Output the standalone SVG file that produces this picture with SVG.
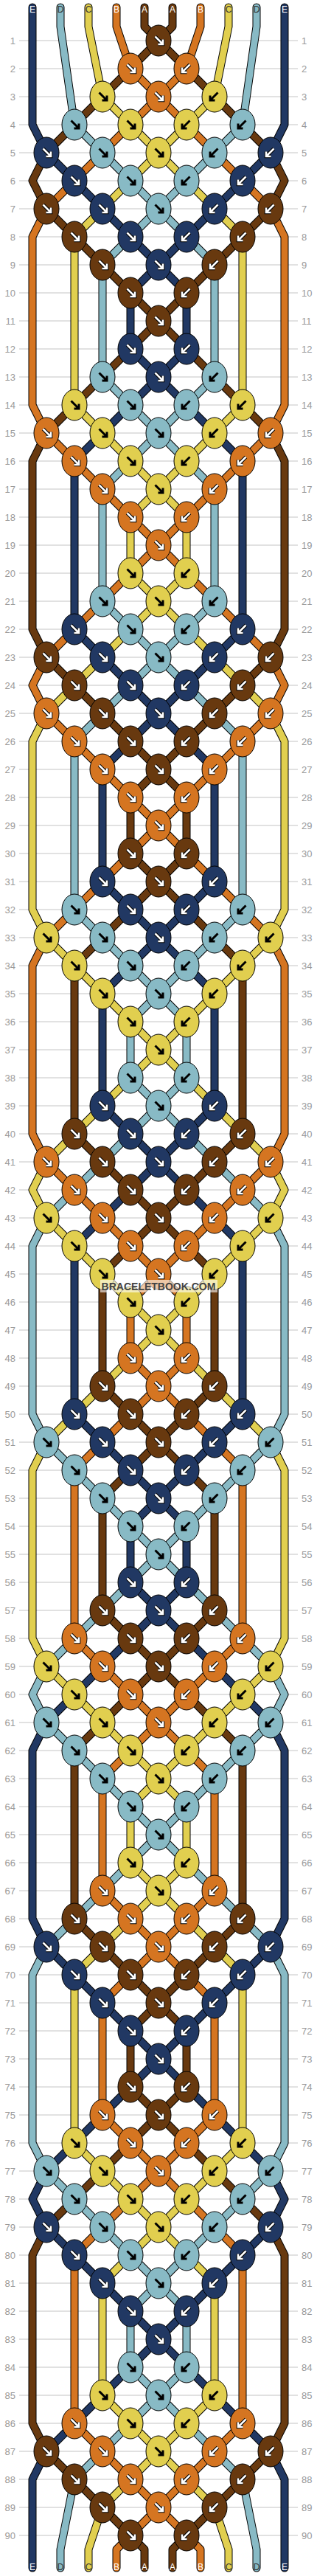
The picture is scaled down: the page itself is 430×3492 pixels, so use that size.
<svg xmlns="http://www.w3.org/2000/svg" xmlns:xlink="http://www.w3.org/1999/xlink" width="430" height="3492" viewBox="0 0 430 3492">
<style>
.grid{stroke:#c4c4c4;stroke-width:1;fill:none}
.num{font-family:"Liberation Sans",Arial,sans-serif;font-size:13px;fill:#9a9a9a}
.lab{font-family:"Liberation Sans",Arial,sans-serif;font-size:12px;text-anchor:middle}
.ol{fill:none;stroke:#000;stroke-width:11;stroke-linecap:round;stroke-linejoin:round}
.cl{fill:none;stroke-width:9;stroke-linecap:round;stroke-linejoin:round}
.ap{fill:none;stroke-linecap:butt;stroke-linejoin:miter}
</style>
<defs>
<path id="ad" d="M-4.5,-5.5L5.5,4.5M-0.5,5H6V-1.5"/>
<g id="aw" class="ap"><use href="#ad" stroke="#000" stroke-width="4.6"/><use href="#ad" stroke="#fff" stroke-width="2.6"/></g>
<g id="ab" class="ap"><use href="#ad" stroke="#000" stroke-width="3"/></g>
<g id="Nr"><ellipse rx="17" ry="21" fill="#213863" stroke="#000"/><use href="#aw"/></g>
<g id="Nl"><ellipse rx="17" ry="21" fill="#213863" stroke="#000"/><use href="#aw" transform="scale(-1,1)"/></g>
<g id="Wr"><ellipse rx="17" ry="21" fill="#68390f" stroke="#000"/><use href="#aw"/></g>
<g id="Wl"><ellipse rx="17" ry="21" fill="#68390f" stroke="#000"/><use href="#aw" transform="scale(-1,1)"/></g>
<g id="Or"><ellipse rx="17" ry="21" fill="#d57521" stroke="#000"/><use href="#aw"/></g>
<g id="Ol"><ellipse rx="17" ry="21" fill="#d57521" stroke="#000"/><use href="#aw" transform="scale(-1,1)"/></g>
<g id="Lr"><ellipse rx="17" ry="21" fill="#88bac5" stroke="#000"/><use href="#ab"/></g>
<g id="Ll"><ellipse rx="17" ry="21" fill="#88bac5" stroke="#000"/><use href="#ab" transform="scale(-1,1)"/></g>
<g id="Yr"><ellipse rx="17" ry="21" fill="#e1cf4f" stroke="#000"/><use href="#ab"/></g>
<g id="Yl"><ellipse rx="17" ry="21" fill="#e1cf4f" stroke="#000"/><use href="#ab" transform="scale(-1,1)"/></g>
<path id="pN" d="M44,10 44,36 44,93 44,169 63,207 101,245 139,283 177,321 215,359 177,397 177,473 215,511 177,549 139,587 101,625 101,853 139,891 177,929 215,967 177,1005 139,1043 139,1195 177,1233 215,1271 177,1309 139,1347 139,1499 177,1537 215,1575 177,1613 139,1651 101,1689 101,1917 139,1955 177,1993 215,2031 177,2069 177,2145 215,2183 177,2221 139,2259 101,2297 63,2335 44,2373 44,2601 63,2639 101,2677 139,2715 177,2753 215,2791 177,2829 139,2867 101,2905 63,2943 44,2981 63,3019 101,3057 139,3095 177,3133 215,3171 177,3209 139,3247 101,3285 63,3323 44,3361 44,3481"/>
<path id="pL" d="M82,10 82,36 101,169 139,207 177,245 215,283 177,321 139,359 139,511 177,549 215,587 177,625 139,663 139,815 177,853 215,891 177,929 139,967 101,1005 101,1233 139,1271 177,1309 215,1347 177,1385 177,1461 215,1499 177,1537 139,1575 101,1613 63,1651 44,1689 44,1917 63,1955 101,1993 139,2031 177,2069 215,2107 177,2145 139,2183 101,2221 63,2259 44,2297 63,2335 101,2373 139,2411 177,2449 215,2487 177,2525 139,2563 101,2601 63,2639 44,2677 44,2905 63,2943 101,2981 139,3019 177,3057 215,3095 177,3133 177,3209 215,3247 177,3285 139,3323 101,3361 82,3456 82,3481"/>
<path id="pY" d="M120,10 120,36 139,131 177,169 215,207 177,245 139,283 101,321 101,549 139,587 177,625 215,663 177,701 177,777 215,815 177,853 139,891 101,929 63,967 44,1005 44,1233 63,1271 101,1309 139,1347 177,1385 215,1423 177,1461 139,1499 101,1537 63,1575 44,1613 63,1651 101,1689 139,1727 177,1765 215,1803 177,1841 139,1879 101,1917 63,1955 44,1993 44,2221 63,2259 101,2297 139,2335 177,2373 215,2411 177,2449 177,2525 215,2563 177,2601 139,2639 101,2677 101,2905 139,2943 177,2981 215,3019 177,3057 139,3095 139,3247 177,3285 215,3323 177,3361 139,3399 120,3456 120,3481"/>
<path id="pO" d="M158,10 158,36 177,93 215,131 177,169 139,207 101,245 63,283 44,321 44,549 63,587 101,625 139,663 177,701 215,739 177,777 139,815 101,853 63,891 44,929 63,967 101,1005 139,1043 177,1081 215,1119 177,1157 139,1195 101,1233 63,1271 44,1309 44,1537 63,1575 101,1613 139,1651 177,1689 215,1727 177,1765 177,1841 215,1879 177,1917 139,1955 101,1993 101,2221 139,2259 177,2297 215,2335 177,2373 139,2411 139,2563 177,2601 215,2639 177,2677 139,2715 139,2867 177,2905 215,2943 177,2981 139,3019 101,3057 101,3285 139,3323 177,3361 215,3399 177,3437 158,3456 158,3481"/>
<path id="pW" d="M196,10 196,36 215,55 177,93 139,131 101,169 63,207 44,245 63,283 101,321 139,359 177,397 215,435 177,473 139,511 101,549 63,587 44,625 44,853 63,891 101,929 139,967 177,1005 215,1043 177,1081 177,1157 215,1195 177,1233 139,1271 101,1309 101,1537 139,1575 177,1613 215,1651 177,1689 139,1727 139,1879 177,1917 215,1955 177,1993 139,2031 139,2183 177,2221 215,2259 177,2297 139,2335 101,2373 101,2601 139,2639 177,2677 215,2715 177,2753 177,2829 215,2867 177,2905 139,2943 101,2981 63,3019 44,3057 44,3285 63,3323 101,3361 139,3399 177,3437 196,3456 196,3481"/>
</defs>
<rect width="430" height="3492" fill="#fff"/>
<path id="gridlines" class="grid" d="M26,55H404M26,93H404M26,131H404M26,169H404M26,207H404M26,245H404M26,283H404M26,321H404M26,359H404M26,397H404M26,435H404M26,473H404M26,511H404M26,549H404M26,587H404M26,625H404M26,663H404M26,701H404M26,739H404M26,777H404M26,815H404M26,853H404M26,891H404M26,929H404M26,967H404M26,1005H404M26,1043H404M26,1081H404M26,1119H404M26,1157H404M26,1195H404M26,1233H404M26,1271H404M26,1309H404M26,1347H404M26,1385H404M26,1423H404M26,1461H404M26,1499H404M26,1537H404M26,1575H404M26,1613H404M26,1651H404M26,1689H404M26,1727H404M26,1765H404M26,1803H404M26,1841H404M26,1879H404M26,1917H404M26,1955H404M26,1993H404M26,2031H404M26,2069H404M26,2107H404M26,2145H404M26,2183H404M26,2221H404M26,2259H404M26,2297H404M26,2335H404M26,2373H404M26,2411H404M26,2449H404M26,2487H404M26,2525H404M26,2563H404M26,2601H404M26,2639H404M26,2677H404M26,2715H404M26,2753H404M26,2791H404M26,2829H404M26,2867H404M26,2905H404M26,2943H404M26,2981H404M26,3019H404M26,3057H404M26,3095H404M26,3133H404M26,3171H404M26,3209H404M26,3247H404M26,3285H404M26,3323H404M26,3361H404M26,3399H404M26,3437H404"/>
<g id="rownums" class="num" transform="translate(0,4.5)">
<g text-anchor="end">
<text x="21" y="55">1</text><text x="21" y="93">2</text><text x="21" y="131">3</text><text x="21" y="169">4</text><text x="21" y="207">5</text><text x="21" y="245">6</text><text x="21" y="283">7</text><text x="21" y="321">8</text><text x="21" y="359">9</text><text x="21" y="397">10</text>
<text x="21" y="435">11</text><text x="21" y="473">12</text><text x="21" y="511">13</text><text x="21" y="549">14</text><text x="21" y="587">15</text><text x="21" y="625">16</text><text x="21" y="663">17</text><text x="21" y="701">18</text><text x="21" y="739">19</text><text x="21" y="777">20</text>
<text x="21" y="815">21</text><text x="21" y="853">22</text><text x="21" y="891">23</text><text x="21" y="929">24</text><text x="21" y="967">25</text><text x="21" y="1005">26</text><text x="21" y="1043">27</text><text x="21" y="1081">28</text><text x="21" y="1119">29</text><text x="21" y="1157">30</text>
<text x="21" y="1195">31</text><text x="21" y="1233">32</text><text x="21" y="1271">33</text><text x="21" y="1309">34</text><text x="21" y="1347">35</text><text x="21" y="1385">36</text><text x="21" y="1423">37</text><text x="21" y="1461">38</text><text x="21" y="1499">39</text><text x="21" y="1537">40</text>
<text x="21" y="1575">41</text><text x="21" y="1613">42</text><text x="21" y="1651">43</text><text x="21" y="1689">44</text><text x="21" y="1727">45</text><text x="21" y="1765">46</text><text x="21" y="1803">47</text><text x="21" y="1841">48</text><text x="21" y="1879">49</text><text x="21" y="1917">50</text>
<text x="21" y="1955">51</text><text x="21" y="1993">52</text><text x="21" y="2031">53</text><text x="21" y="2069">54</text><text x="21" y="2107">55</text><text x="21" y="2145">56</text><text x="21" y="2183">57</text><text x="21" y="2221">58</text><text x="21" y="2259">59</text><text x="21" y="2297">60</text>
<text x="21" y="2335">61</text><text x="21" y="2373">62</text><text x="21" y="2411">63</text><text x="21" y="2449">64</text><text x="21" y="2487">65</text><text x="21" y="2525">66</text><text x="21" y="2563">67</text><text x="21" y="2601">68</text><text x="21" y="2639">69</text><text x="21" y="2677">70</text>
<text x="21" y="2715">71</text><text x="21" y="2753">72</text><text x="21" y="2791">73</text><text x="21" y="2829">74</text><text x="21" y="2867">75</text><text x="21" y="2905">76</text><text x="21" y="2943">77</text><text x="21" y="2981">78</text><text x="21" y="3019">79</text><text x="21" y="3057">80</text>
<text x="21" y="3095">81</text><text x="21" y="3133">82</text><text x="21" y="3171">83</text><text x="21" y="3209">84</text><text x="21" y="3247">85</text><text x="21" y="3285">86</text><text x="21" y="3323">87</text><text x="21" y="3361">88</text><text x="21" y="3399">89</text><text x="21" y="3437">90</text>
</g>
<g text-anchor="start">
<text x="409" y="55">1</text><text x="409" y="93">2</text><text x="409" y="131">3</text><text x="409" y="169">4</text><text x="409" y="207">5</text><text x="409" y="245">6</text><text x="409" y="283">7</text><text x="409" y="321">8</text><text x="409" y="359">9</text><text x="409" y="397">10</text>
<text x="409" y="435">11</text><text x="409" y="473">12</text><text x="409" y="511">13</text><text x="409" y="549">14</text><text x="409" y="587">15</text><text x="409" y="625">16</text><text x="409" y="663">17</text><text x="409" y="701">18</text><text x="409" y="739">19</text><text x="409" y="777">20</text>
<text x="409" y="815">21</text><text x="409" y="853">22</text><text x="409" y="891">23</text><text x="409" y="929">24</text><text x="409" y="967">25</text><text x="409" y="1005">26</text><text x="409" y="1043">27</text><text x="409" y="1081">28</text><text x="409" y="1119">29</text><text x="409" y="1157">30</text>
<text x="409" y="1195">31</text><text x="409" y="1233">32</text><text x="409" y="1271">33</text><text x="409" y="1309">34</text><text x="409" y="1347">35</text><text x="409" y="1385">36</text><text x="409" y="1423">37</text><text x="409" y="1461">38</text><text x="409" y="1499">39</text><text x="409" y="1537">40</text>
<text x="409" y="1575">41</text><text x="409" y="1613">42</text><text x="409" y="1651">43</text><text x="409" y="1689">44</text><text x="409" y="1727">45</text><text x="409" y="1765">46</text><text x="409" y="1803">47</text><text x="409" y="1841">48</text><text x="409" y="1879">49</text><text x="409" y="1917">50</text>
<text x="409" y="1955">51</text><text x="409" y="1993">52</text><text x="409" y="2031">53</text><text x="409" y="2069">54</text><text x="409" y="2107">55</text><text x="409" y="2145">56</text><text x="409" y="2183">57</text><text x="409" y="2221">58</text><text x="409" y="2259">59</text><text x="409" y="2297">60</text>
<text x="409" y="2335">61</text><text x="409" y="2373">62</text><text x="409" y="2411">63</text><text x="409" y="2449">64</text><text x="409" y="2487">65</text><text x="409" y="2525">66</text><text x="409" y="2563">67</text><text x="409" y="2601">68</text><text x="409" y="2639">69</text><text x="409" y="2677">70</text>
<text x="409" y="2715">71</text><text x="409" y="2753">72</text><text x="409" y="2791">73</text><text x="409" y="2829">74</text><text x="409" y="2867">75</text><text x="409" y="2905">76</text><text x="409" y="2943">77</text><text x="409" y="2981">78</text><text x="409" y="3019">79</text><text x="409" y="3057">80</text>
<text x="409" y="3095">81</text><text x="409" y="3133">82</text><text x="409" y="3171">83</text><text x="409" y="3209">84</text><text x="409" y="3247">85</text><text x="409" y="3285">86</text><text x="409" y="3323">87</text><text x="409" y="3361">88</text><text x="409" y="3399">89</text><text x="409" y="3437">90</text>
</g>
</g>
<g id="connectors">
<g id="strings-left">
<g class="ol"><use href="#pN"/><use href="#pL"/><use href="#pY"/><use href="#pO"/><use href="#pW"/></g>
<g class="cl"><use href="#pN" stroke="#213863"/><use href="#pL" stroke="#88bac5"/><use href="#pY" stroke="#e1cf4f"/><use href="#pO" stroke="#d57521"/><use href="#pW" stroke="#68390f"/></g>
</g>
<use id="strings-right" href="#strings-left" transform="matrix(-1 0 0 1 430 0)"/>
</g>
<g id="labels" class="lab">
<text x="44" y="16.5" fill="#fff">E</text><text x="82" y="16.5" fill="#333">D</text><text x="120" y="16.5" fill="#333">C</text><text x="158" y="16.5" fill="#fff">B</text><text x="196" y="16.5" fill="#fff">A</text>
<text x="234" y="16.5" fill="#fff">A</text><text x="272" y="16.5" fill="#fff">B</text><text x="310" y="16.5" fill="#333">C</text><text x="348" y="16.5" fill="#333">D</text><text x="386" y="16.5" fill="#fff">E</text>
<text x="44" y="3484" fill="#fff">E</text><text x="82" y="3484" fill="#333">D</text><text x="120" y="3484" fill="#333">C</text><text x="158" y="3484" fill="#fff">B</text><text x="196" y="3484" fill="#fff">A</text>
<text x="234" y="3484" fill="#fff">A</text><text x="272" y="3484" fill="#fff">B</text><text x="310" y="3484" fill="#333">C</text><text x="348" y="3484" fill="#333">D</text><text x="386" y="3484" fill="#fff">E</text>
</g>
<g id="knots">
<g id="k1-215"><use href="#Wr" x="215" y="55"/></g>
<g id="k2-177"><use href="#Or" x="177" y="93"/></g><g id="k2-253"><use href="#Ol" x="253" y="93"/></g>
<g id="k3-139"><use href="#Yr" x="139" y="131"/></g><g id="k3-291"><use href="#Yl" x="291" y="131"/></g><g id="k3-215"><use href="#Or" x="215" y="131"/></g>
<g id="k4-101"><use href="#Lr" x="101" y="169"/></g><g id="k4-329"><use href="#Ll" x="329" y="169"/></g><g id="k4-177"><use href="#Yr" x="177" y="169"/></g><g id="k4-253"><use href="#Yl" x="253" y="169"/></g>
<g id="k5-63"><use href="#Nr" x="63" y="207"/></g><g id="k5-367"><use href="#Nl" x="367" y="207"/></g><g id="k5-139"><use href="#Lr" x="139" y="207"/></g><g id="k5-291"><use href="#Ll" x="291" y="207"/></g><g id="k5-215"><use href="#Yr" x="215" y="207"/></g>
<g id="k6-101"><use href="#Nr" x="101" y="245"/></g><g id="k6-329"><use href="#Nl" x="329" y="245"/></g><g id="k6-177"><use href="#Lr" x="177" y="245"/></g><g id="k6-253"><use href="#Ll" x="253" y="245"/></g>
<g id="k7-63"><use href="#Wr" x="63" y="283"/></g><g id="k7-367"><use href="#Wl" x="367" y="283"/></g><g id="k7-139"><use href="#Nr" x="139" y="283"/></g><g id="k7-291"><use href="#Nl" x="291" y="283"/></g><g id="k7-215"><use href="#Lr" x="215" y="283"/></g>
<g id="k8-101"><use href="#Wr" x="101" y="321"/></g><g id="k8-329"><use href="#Wl" x="329" y="321"/></g><g id="k8-177"><use href="#Nr" x="177" y="321"/></g><g id="k8-253"><use href="#Nl" x="253" y="321"/></g>
<g id="k9-139"><use href="#Wr" x="139" y="359"/></g><g id="k9-291"><use href="#Wl" x="291" y="359"/></g><g id="k9-215"><use href="#Nr" x="215" y="359"/></g>
<g id="k10-177"><use href="#Wr" x="177" y="397"/></g><g id="k10-253"><use href="#Wl" x="253" y="397"/></g>
<g id="k11-215"><use href="#Wr" x="215" y="435"/></g>
<g id="k12-177"><use href="#Nr" x="177" y="473"/></g><g id="k12-253"><use href="#Nl" x="253" y="473"/></g>
<g id="k13-139"><use href="#Lr" x="139" y="511"/></g><g id="k13-291"><use href="#Ll" x="291" y="511"/></g><g id="k13-215"><use href="#Nr" x="215" y="511"/></g>
<g id="k14-101"><use href="#Yr" x="101" y="549"/></g><g id="k14-329"><use href="#Yl" x="329" y="549"/></g><g id="k14-177"><use href="#Lr" x="177" y="549"/></g><g id="k14-253"><use href="#Ll" x="253" y="549"/></g>
<g id="k15-63"><use href="#Or" x="63" y="587"/></g><g id="k15-367"><use href="#Ol" x="367" y="587"/></g><g id="k15-139"><use href="#Yr" x="139" y="587"/></g><g id="k15-291"><use href="#Yl" x="291" y="587"/></g><g id="k15-215"><use href="#Lr" x="215" y="587"/></g>
<g id="k16-101"><use href="#Or" x="101" y="625"/></g><g id="k16-329"><use href="#Ol" x="329" y="625"/></g><g id="k16-177"><use href="#Yr" x="177" y="625"/></g><g id="k16-253"><use href="#Yl" x="253" y="625"/></g>
<g id="k17-139"><use href="#Or" x="139" y="663"/></g><g id="k17-291"><use href="#Ol" x="291" y="663"/></g><g id="k17-215"><use href="#Yr" x="215" y="663"/></g>
<g id="k18-177"><use href="#Or" x="177" y="701"/></g><g id="k18-253"><use href="#Ol" x="253" y="701"/></g>
<g id="k19-215"><use href="#Or" x="215" y="739"/></g>
<g id="k20-177"><use href="#Yr" x="177" y="777"/></g><g id="k20-253"><use href="#Yl" x="253" y="777"/></g>
<g id="k21-139"><use href="#Lr" x="139" y="815"/></g><g id="k21-291"><use href="#Ll" x="291" y="815"/></g><g id="k21-215"><use href="#Yr" x="215" y="815"/></g>
<g id="k22-101"><use href="#Nr" x="101" y="853"/></g><g id="k22-329"><use href="#Nl" x="329" y="853"/></g><g id="k22-177"><use href="#Lr" x="177" y="853"/></g><g id="k22-253"><use href="#Ll" x="253" y="853"/></g>
<g id="k23-63"><use href="#Wr" x="63" y="891"/></g><g id="k23-367"><use href="#Wl" x="367" y="891"/></g><g id="k23-139"><use href="#Nr" x="139" y="891"/></g><g id="k23-291"><use href="#Nl" x="291" y="891"/></g><g id="k23-215"><use href="#Lr" x="215" y="891"/></g>
<g id="k24-101"><use href="#Wr" x="101" y="929"/></g><g id="k24-329"><use href="#Wl" x="329" y="929"/></g><g id="k24-177"><use href="#Nr" x="177" y="929"/></g><g id="k24-253"><use href="#Nl" x="253" y="929"/></g>
<g id="k25-63"><use href="#Or" x="63" y="967"/></g><g id="k25-367"><use href="#Ol" x="367" y="967"/></g><g id="k25-139"><use href="#Wr" x="139" y="967"/></g><g id="k25-291"><use href="#Wl" x="291" y="967"/></g><g id="k25-215"><use href="#Nr" x="215" y="967"/></g>
<g id="k26-101"><use href="#Or" x="101" y="1005"/></g><g id="k26-329"><use href="#Ol" x="329" y="1005"/></g><g id="k26-177"><use href="#Wr" x="177" y="1005"/></g><g id="k26-253"><use href="#Wl" x="253" y="1005"/></g>
<g id="k27-139"><use href="#Or" x="139" y="1043"/></g><g id="k27-291"><use href="#Ol" x="291" y="1043"/></g><g id="k27-215"><use href="#Wr" x="215" y="1043"/></g>
<g id="k28-177"><use href="#Or" x="177" y="1081"/></g><g id="k28-253"><use href="#Ol" x="253" y="1081"/></g>
<g id="k29-215"><use href="#Or" x="215" y="1119"/></g>
<g id="k30-177"><use href="#Wr" x="177" y="1157"/></g><g id="k30-253"><use href="#Wl" x="253" y="1157"/></g>
<g id="k31-139"><use href="#Nr" x="139" y="1195"/></g><g id="k31-291"><use href="#Nl" x="291" y="1195"/></g><g id="k31-215"><use href="#Wr" x="215" y="1195"/></g>
<g id="k32-101"><use href="#Lr" x="101" y="1233"/></g><g id="k32-329"><use href="#Ll" x="329" y="1233"/></g><g id="k32-177"><use href="#Nr" x="177" y="1233"/></g><g id="k32-253"><use href="#Nl" x="253" y="1233"/></g>
<g id="k33-63"><use href="#Yr" x="63" y="1271"/></g><g id="k33-367"><use href="#Yl" x="367" y="1271"/></g><g id="k33-139"><use href="#Lr" x="139" y="1271"/></g><g id="k33-291"><use href="#Ll" x="291" y="1271"/></g><g id="k33-215"><use href="#Nr" x="215" y="1271"/></g>
<g id="k34-101"><use href="#Yr" x="101" y="1309"/></g><g id="k34-329"><use href="#Yl" x="329" y="1309"/></g><g id="k34-177"><use href="#Lr" x="177" y="1309"/></g><g id="k34-253"><use href="#Ll" x="253" y="1309"/></g>
<g id="k35-139"><use href="#Yr" x="139" y="1347"/></g><g id="k35-291"><use href="#Yl" x="291" y="1347"/></g><g id="k35-215"><use href="#Lr" x="215" y="1347"/></g>
<g id="k36-177"><use href="#Yr" x="177" y="1385"/></g><g id="k36-253"><use href="#Yl" x="253" y="1385"/></g>
<g id="k37-215"><use href="#Yr" x="215" y="1423"/></g>
<g id="k38-177"><use href="#Lr" x="177" y="1461"/></g><g id="k38-253"><use href="#Ll" x="253" y="1461"/></g>
<g id="k39-139"><use href="#Nr" x="139" y="1499"/></g><g id="k39-291"><use href="#Nl" x="291" y="1499"/></g><g id="k39-215"><use href="#Lr" x="215" y="1499"/></g>
<g id="k40-101"><use href="#Wr" x="101" y="1537"/></g><g id="k40-329"><use href="#Wl" x="329" y="1537"/></g><g id="k40-177"><use href="#Nr" x="177" y="1537"/></g><g id="k40-253"><use href="#Nl" x="253" y="1537"/></g>
<g id="k41-63"><use href="#Or" x="63" y="1575"/></g><g id="k41-367"><use href="#Ol" x="367" y="1575"/></g><g id="k41-139"><use href="#Wr" x="139" y="1575"/></g><g id="k41-291"><use href="#Wl" x="291" y="1575"/></g><g id="k41-215"><use href="#Nr" x="215" y="1575"/></g>
<g id="k42-101"><use href="#Or" x="101" y="1613"/></g><g id="k42-329"><use href="#Ol" x="329" y="1613"/></g><g id="k42-177"><use href="#Wr" x="177" y="1613"/></g><g id="k42-253"><use href="#Wl" x="253" y="1613"/></g>
<g id="k43-63"><use href="#Yr" x="63" y="1651"/></g><g id="k43-367"><use href="#Yl" x="367" y="1651"/></g><g id="k43-139"><use href="#Or" x="139" y="1651"/></g><g id="k43-291"><use href="#Ol" x="291" y="1651"/></g><g id="k43-215"><use href="#Wr" x="215" y="1651"/></g>
<g id="k44-101"><use href="#Yr" x="101" y="1689"/></g><g id="k44-329"><use href="#Yl" x="329" y="1689"/></g><g id="k44-177"><use href="#Or" x="177" y="1689"/></g><g id="k44-253"><use href="#Ol" x="253" y="1689"/></g>
<g id="k45-139"><use href="#Yr" x="139" y="1727"/></g><g id="k45-291"><use href="#Yl" x="291" y="1727"/></g><g id="k45-215"><use href="#Or" x="215" y="1727"/></g>
<g id="k46-177"><use href="#Yr" x="177" y="1765"/></g><g id="k46-253"><use href="#Yl" x="253" y="1765"/></g>
<g id="k47-215"><use href="#Yr" x="215" y="1803"/></g>
<g id="k48-177"><use href="#Or" x="177" y="1841"/></g><g id="k48-253"><use href="#Ol" x="253" y="1841"/></g>
<g id="k49-139"><use href="#Wr" x="139" y="1879"/></g><g id="k49-291"><use href="#Wl" x="291" y="1879"/></g><g id="k49-215"><use href="#Or" x="215" y="1879"/></g>
<g id="k50-101"><use href="#Nr" x="101" y="1917"/></g><g id="k50-329"><use href="#Nl" x="329" y="1917"/></g><g id="k50-177"><use href="#Wr" x="177" y="1917"/></g><g id="k50-253"><use href="#Wl" x="253" y="1917"/></g>
<g id="k51-63"><use href="#Lr" x="63" y="1955"/></g><g id="k51-367"><use href="#Ll" x="367" y="1955"/></g><g id="k51-139"><use href="#Nr" x="139" y="1955"/></g><g id="k51-291"><use href="#Nl" x="291" y="1955"/></g><g id="k51-215"><use href="#Wr" x="215" y="1955"/></g>
<g id="k52-101"><use href="#Lr" x="101" y="1993"/></g><g id="k52-329"><use href="#Ll" x="329" y="1993"/></g><g id="k52-177"><use href="#Nr" x="177" y="1993"/></g><g id="k52-253"><use href="#Nl" x="253" y="1993"/></g>
<g id="k53-139"><use href="#Lr" x="139" y="2031"/></g><g id="k53-291"><use href="#Ll" x="291" y="2031"/></g><g id="k53-215"><use href="#Nr" x="215" y="2031"/></g>
<g id="k54-177"><use href="#Lr" x="177" y="2069"/></g><g id="k54-253"><use href="#Ll" x="253" y="2069"/></g>
<g id="k55-215"><use href="#Lr" x="215" y="2107"/></g>
<g id="k56-177"><use href="#Nr" x="177" y="2145"/></g><g id="k56-253"><use href="#Nl" x="253" y="2145"/></g>
<g id="k57-139"><use href="#Wr" x="139" y="2183"/></g><g id="k57-291"><use href="#Wl" x="291" y="2183"/></g><g id="k57-215"><use href="#Nr" x="215" y="2183"/></g>
<g id="k58-101"><use href="#Or" x="101" y="2221"/></g><g id="k58-329"><use href="#Ol" x="329" y="2221"/></g><g id="k58-177"><use href="#Wr" x="177" y="2221"/></g><g id="k58-253"><use href="#Wl" x="253" y="2221"/></g>
<g id="k59-63"><use href="#Yr" x="63" y="2259"/></g><g id="k59-367"><use href="#Yl" x="367" y="2259"/></g><g id="k59-139"><use href="#Or" x="139" y="2259"/></g><g id="k59-291"><use href="#Ol" x="291" y="2259"/></g><g id="k59-215"><use href="#Wr" x="215" y="2259"/></g>
<g id="k60-101"><use href="#Yr" x="101" y="2297"/></g><g id="k60-329"><use href="#Yl" x="329" y="2297"/></g><g id="k60-177"><use href="#Or" x="177" y="2297"/></g><g id="k60-253"><use href="#Ol" x="253" y="2297"/></g>
<g id="k61-63"><use href="#Lr" x="63" y="2335"/></g><g id="k61-367"><use href="#Ll" x="367" y="2335"/></g><g id="k61-139"><use href="#Yr" x="139" y="2335"/></g><g id="k61-291"><use href="#Yl" x="291" y="2335"/></g><g id="k61-215"><use href="#Or" x="215" y="2335"/></g>
<g id="k62-101"><use href="#Lr" x="101" y="2373"/></g><g id="k62-329"><use href="#Ll" x="329" y="2373"/></g><g id="k62-177"><use href="#Yr" x="177" y="2373"/></g><g id="k62-253"><use href="#Yl" x="253" y="2373"/></g>
<g id="k63-139"><use href="#Lr" x="139" y="2411"/></g><g id="k63-291"><use href="#Ll" x="291" y="2411"/></g><g id="k63-215"><use href="#Yr" x="215" y="2411"/></g>
<g id="k64-177"><use href="#Lr" x="177" y="2449"/></g><g id="k64-253"><use href="#Ll" x="253" y="2449"/></g>
<g id="k65-215"><use href="#Lr" x="215" y="2487"/></g>
<g id="k66-177"><use href="#Yr" x="177" y="2525"/></g><g id="k66-253"><use href="#Yl" x="253" y="2525"/></g>
<g id="k67-139"><use href="#Or" x="139" y="2563"/></g><g id="k67-291"><use href="#Ol" x="291" y="2563"/></g><g id="k67-215"><use href="#Yr" x="215" y="2563"/></g>
<g id="k68-101"><use href="#Wr" x="101" y="2601"/></g><g id="k68-329"><use href="#Wl" x="329" y="2601"/></g><g id="k68-177"><use href="#Or" x="177" y="2601"/></g><g id="k68-253"><use href="#Ol" x="253" y="2601"/></g>
<g id="k69-63"><use href="#Nr" x="63" y="2639"/></g><g id="k69-367"><use href="#Nl" x="367" y="2639"/></g><g id="k69-139"><use href="#Wr" x="139" y="2639"/></g><g id="k69-291"><use href="#Wl" x="291" y="2639"/></g><g id="k69-215"><use href="#Or" x="215" y="2639"/></g>
<g id="k70-101"><use href="#Nr" x="101" y="2677"/></g><g id="k70-329"><use href="#Nl" x="329" y="2677"/></g><g id="k70-177"><use href="#Wr" x="177" y="2677"/></g><g id="k70-253"><use href="#Wl" x="253" y="2677"/></g>
<g id="k71-139"><use href="#Nr" x="139" y="2715"/></g><g id="k71-291"><use href="#Nl" x="291" y="2715"/></g><g id="k71-215"><use href="#Wr" x="215" y="2715"/></g>
<g id="k72-177"><use href="#Nr" x="177" y="2753"/></g><g id="k72-253"><use href="#Nl" x="253" y="2753"/></g>
<g id="k73-215"><use href="#Nr" x="215" y="2791"/></g>
<g id="k74-177"><use href="#Wr" x="177" y="2829"/></g><g id="k74-253"><use href="#Wl" x="253" y="2829"/></g>
<g id="k75-139"><use href="#Or" x="139" y="2867"/></g><g id="k75-291"><use href="#Ol" x="291" y="2867"/></g><g id="k75-215"><use href="#Wr" x="215" y="2867"/></g>
<g id="k76-101"><use href="#Yr" x="101" y="2905"/></g><g id="k76-329"><use href="#Yl" x="329" y="2905"/></g><g id="k76-177"><use href="#Or" x="177" y="2905"/></g><g id="k76-253"><use href="#Ol" x="253" y="2905"/></g>
<g id="k77-63"><use href="#Lr" x="63" y="2943"/></g><g id="k77-367"><use href="#Ll" x="367" y="2943"/></g><g id="k77-139"><use href="#Yr" x="139" y="2943"/></g><g id="k77-291"><use href="#Yl" x="291" y="2943"/></g><g id="k77-215"><use href="#Or" x="215" y="2943"/></g>
<g id="k78-101"><use href="#Lr" x="101" y="2981"/></g><g id="k78-329"><use href="#Ll" x="329" y="2981"/></g><g id="k78-177"><use href="#Yr" x="177" y="2981"/></g><g id="k78-253"><use href="#Yl" x="253" y="2981"/></g>
<g id="k79-63"><use href="#Nr" x="63" y="3019"/></g><g id="k79-367"><use href="#Nl" x="367" y="3019"/></g><g id="k79-139"><use href="#Lr" x="139" y="3019"/></g><g id="k79-291"><use href="#Ll" x="291" y="3019"/></g><g id="k79-215"><use href="#Yr" x="215" y="3019"/></g>
<g id="k80-101"><use href="#Nr" x="101" y="3057"/></g><g id="k80-329"><use href="#Nl" x="329" y="3057"/></g><g id="k80-177"><use href="#Lr" x="177" y="3057"/></g><g id="k80-253"><use href="#Ll" x="253" y="3057"/></g>
<g id="k81-139"><use href="#Nr" x="139" y="3095"/></g><g id="k81-291"><use href="#Nl" x="291" y="3095"/></g><g id="k81-215"><use href="#Lr" x="215" y="3095"/></g>
<g id="k82-177"><use href="#Nr" x="177" y="3133"/></g><g id="k82-253"><use href="#Nl" x="253" y="3133"/></g>
<g id="k83-215"><use href="#Nr" x="215" y="3171"/></g>
<g id="k84-177"><use href="#Lr" x="177" y="3209"/></g><g id="k84-253"><use href="#Ll" x="253" y="3209"/></g>
<g id="k85-139"><use href="#Yr" x="139" y="3247"/></g><g id="k85-291"><use href="#Yl" x="291" y="3247"/></g><g id="k85-215"><use href="#Lr" x="215" y="3247"/></g>
<g id="k86-101"><use href="#Or" x="101" y="3285"/></g><g id="k86-329"><use href="#Ol" x="329" y="3285"/></g><g id="k86-177"><use href="#Yr" x="177" y="3285"/></g><g id="k86-253"><use href="#Yl" x="253" y="3285"/></g>
<g id="k87-63"><use href="#Wr" x="63" y="3323"/></g><g id="k87-367"><use href="#Wl" x="367" y="3323"/></g><g id="k87-139"><use href="#Or" x="139" y="3323"/></g><g id="k87-291"><use href="#Ol" x="291" y="3323"/></g><g id="k87-215"><use href="#Yr" x="215" y="3323"/></g>
<g id="k88-101"><use href="#Wr" x="101" y="3361"/></g><g id="k88-329"><use href="#Wl" x="329" y="3361"/></g><g id="k88-177"><use href="#Or" x="177" y="3361"/></g><g id="k88-253"><use href="#Ol" x="253" y="3361"/></g>
<g id="k89-139"><use href="#Wr" x="139" y="3399"/></g><g id="k89-291"><use href="#Wl" x="291" y="3399"/></g><g id="k89-215"><use href="#Or" x="215" y="3399"/></g>
<g id="k90-177"><use href="#Wr" x="177" y="3437"/></g><g id="k90-253"><use href="#Wl" x="253" y="3437"/></g>
</g>
<g id="watermark">
<rect x="136" y="1735" width="159" height="17" fill="#fff" fill-opacity="0.6"/>
<text x="215" y="1749" text-anchor="middle" font-family="'Liberation Sans',Arial,sans-serif" font-size="14" font-weight="bold" fill="#444">BRACELETBOOK.COM</text>
</g>
</svg>
